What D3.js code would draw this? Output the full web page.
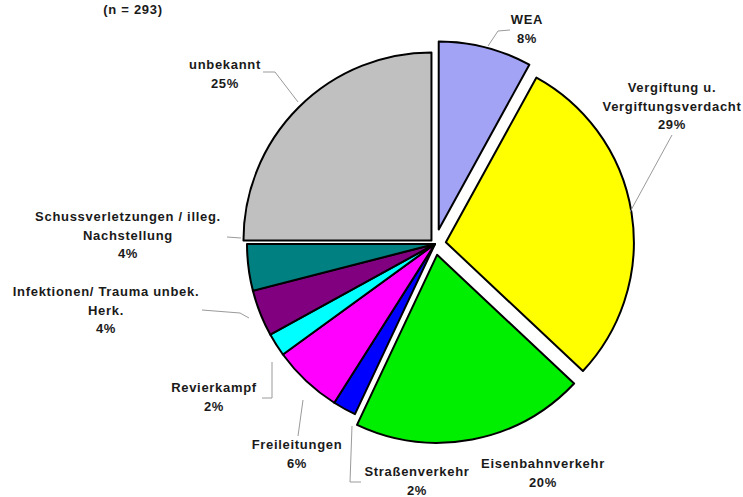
<!DOCTYPE html>
<html>
<head>
<meta charset="utf-8">
<script src="https://cdn.jsdelivr.net/npm/d3@7"></script>
<style>
  html, body { margin: 0; padding: 0; background: #fff; }
  svg { display: block; }
  text { font-family: "Liberation Sans", Arial, sans-serif; font-weight: bold; fill: #1a1a1a; letter-spacing: 0.7px; }
</style>
</head>
<body>
<svg id="chart" width="743" height="497"></svg>
<script>
// Causes (clockwise from 12 o'clock) and their share in percent, n = 293
const categories = [
  "WEA",
  "Vergiftung u. Vergiftungsverdacht",
  "Eisenbahnverkehr",
  "Straßenverkehr",
  "Freileitungen",
  "Revierkampf",
  "Infektionen/ Trauma unbek. Herk.",
  "Schussverletzungen / illeg. Nachstellung",
  "unbekannt"
];
const values = [8, 29, 20, 2, 6, 2, 4, 4, 25];
const sampleSize = 293;

// Label lines (manual wrapping) for each category
const labelLines = [
  ["WEA"],
  ["Vergiftung u.", "Vergiftungsverdacht"],
  ["Eisenbahnverkehr"],
  ["Straßenverkehr"],
  ["Freileitungen"],
  ["Revierkampf"],
  ["Infektionen/ Trauma unbek.", "Herk."],
  ["Schussverletzungen / illeg.", "Nachstellung"],
  ["unbekannt"]
];

// Styling and layout
const colors = ["#a3a3f6", "#ffff00", "#00ee00", "#0000ff", "#ff00ff", "#00ffff", "#800080", "#008080", "#c0c0c0"];
const explode = [15, 11, 11, 0, 0, 0, 0, 0, 5];
const labelPos = [
  [527, 24], [672, 92], [543, 468], [417, 476], [297, 449],
  [214, 392], [106, 296], [128, 221], [225, 69]
];
const leaders = [
  [[510, 30], [498, 31], [488, 46]],
  [[672, 135], [630, 212]],
  null,
  [[352, 426], [350, 482], [361, 482]],
  [[303, 400], [298, 436]],
  [[272, 362], [272, 398], [262, 398]],
  [[202, 310], [240, 313], [249, 318]],
  [[227, 237], [241, 238]],
  [[263, 72], [275, 72], [298, 102]]
];

const cx = 435, cy = 244, R = 188;
const fontSize = 13, lineH = 18.5;

const svg = d3.select("#chart");

svg.append("text")
  .attr("x", 133).attr("y", 14)
  .attr("text-anchor", "middle")
  .attr("font-size", fontSize)
  .text(`(n = ${sampleSize})`);

const pie = d3.pie().sort(null).value(d => d.value).startAngle(0).endAngle(2 * Math.PI);
const arc = d3.arc().innerRadius(0).outerRadius(R);

const data = categories.map((c, i) => ({ name: c, value: values[i], i }));
const arcs = pie(data);

const g = svg.append("g").attr("transform", `translate(${cx},${cy})`);

g.selectAll("path.slice")
  .data(arcs)
  .join("path")
  .attr("class", "slice")
  .attr("d", arc)
  .attr("transform", d => {
    const a = (d.startAngle + d.endAngle) / 2;
    const off = explode[d.data.i];
    return `translate(${off * Math.sin(a)},${-off * Math.cos(a)})`;
  })
  .attr("fill", d => colors[d.data.i])
  .attr("stroke", "#000")
  .attr("stroke-width", 2)
  .attr("stroke-linejoin", "round");

// Leader lines
const line = d3.line();
svg.selectAll("path.leader")
  .data(leaders.filter(l => l))
  .join("path")
  .attr("class", "leader")
  .attr("d", line)
  .attr("fill", "none")
  .attr("stroke", "#9a9a9a")
  .attr("stroke-width", 1);

// Labels: name lines followed by percentage
arcs.forEach(d => {
  const i = d.data.i;
  const lines = labelLines[i].concat([`${d.data.value}%`]);
  const t = svg.append("text")
    .attr("text-anchor", "middle")
    .attr("font-size", fontSize)
    .attr("x", labelPos[i][0])
    .attr("y", labelPos[i][1]);
  lines.forEach((s, k) => {
    t.append("tspan")
      .attr("x", labelPos[i][0])
      .attr("dy", k === 0 ? 0 : lineH)
      .text(s);
  });
});
</script>
</body>
</html>
